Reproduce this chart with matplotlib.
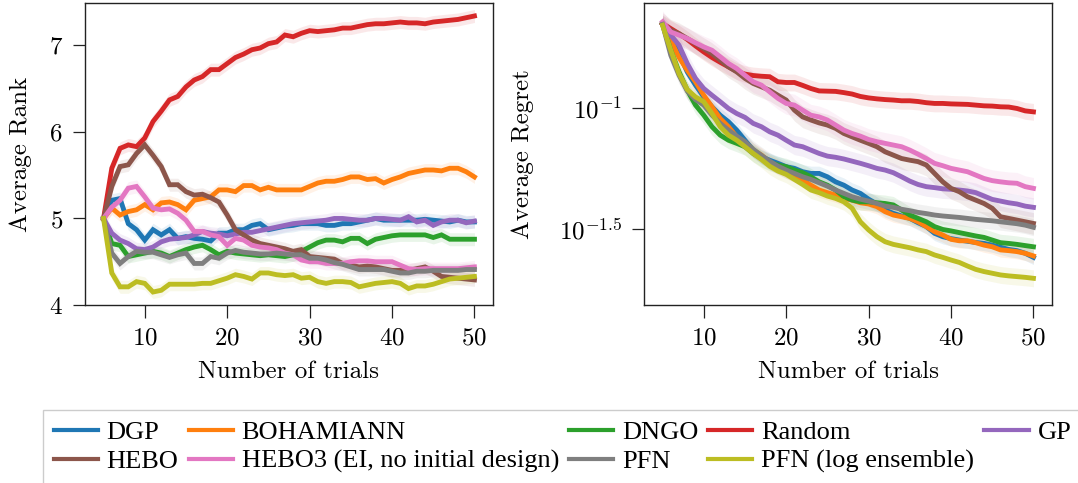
import numpy as np
import matplotlib
matplotlib.use("Agg")
import matplotlib.pyplot as plt
from matplotlib.lines import Line2D

plt.rcParams['font.family'] = ['cmr10', 'DejaVu Serif']
plt.rcParams['mathtext.fontset'] = 'cm'
plt.rcParams['axes.formatter.use_mathtext'] = True

trials = list(range(5, 51))

methods = ["DGP", "BOHAMIANN", "DNGO", "Random", "GP", "HEBO",
           "HEBO3 (EI, no initial design)", "PFN", "PFN (log ensemble)"]
colors = ["#1f77b4", "#ff7f0e", "#2ca02c", "#d62728", "#9467bd", "#8c564b",
          "#e377c2", "#7f7f7f", "#bcbd22"]

# Average rank per trial (5..50)
rank_dgp = [5.00, 5.21, 5.23, 4.94, 4.87, 4.75, 4.87, 4.81, 4.87, 4.77,
            4.79, 4.77, 4.76, 4.74, 4.83, 4.83, 4.87, 4.87, 4.92, 4.94,
            4.87, 4.89, 4.91, 4.92, 4.94, 4.94, 4.94, 4.92, 4.92, 4.94,
            4.94, 4.96, 4.98, 5.00, 4.98, 4.98, 4.98, 4.98, 4.98, 4.99,
            4.98, 4.97, 4.96, 4.98, 4.96, 4.96]
rank_bohamiann = [5.00, 5.12, 5.04, 5.08, 5.10, 5.16, 5.10, 5.18, 5.19, 5.16,
                  5.10, 5.21, 5.23, 5.25, 5.33, 5.33, 5.31, 5.38, 5.38, 5.33,
                  5.36, 5.33, 5.33, 5.33, 5.33, 5.37, 5.41, 5.43, 5.43, 5.45,
                  5.48, 5.48, 5.45, 5.46, 5.41, 5.45, 5.48, 5.52, 5.54, 5.56,
                  5.56, 5.55, 5.58, 5.58, 5.54, 5.48]
rank_dngo = [5.00, 4.71, 4.69, 4.56, 4.58, 4.60, 4.62, 4.60, 4.56, 4.60,
             4.64, 4.67, 4.69, 4.64, 4.58, 4.62, 4.60, 4.59, 4.58, 4.57,
             4.58, 4.57, 4.56, 4.58, 4.62, 4.67, 4.72, 4.75, 4.75, 4.73,
             4.77, 4.77, 4.71, 4.76, 4.78, 4.80, 4.81, 4.81, 4.81, 4.81,
             4.78, 4.81, 4.76, 4.76, 4.76, 4.76]
rank_random = [5.00, 5.58, 5.81, 5.85, 5.83, 5.93, 6.12, 6.24, 6.37, 6.41,
               6.52, 6.60, 6.64, 6.72, 6.72, 6.79, 6.86, 6.90, 6.95, 6.97,
               7.02, 7.04, 7.12, 7.10, 7.14, 7.17, 7.16, 7.17, 7.18, 7.20,
               7.20, 7.22, 7.24, 7.25, 7.25, 7.26, 7.27, 7.26, 7.26, 7.25,
               7.27, 7.28, 7.29, 7.30, 7.32, 7.34]
rank_gp = [5.00, 4.83, 4.75, 4.71, 4.65, 4.64, 4.67, 4.73, 4.76, 4.77,
           4.78, 4.81, 4.85, 4.83, 4.82, 4.80, 4.82, 4.84, 4.84, 4.86,
           4.88, 4.90, 4.92, 4.94, 4.95, 4.96, 4.97, 4.98, 5.00, 5.00,
           4.99, 4.98, 4.98, 5.00, 5.00, 4.99, 4.98, 5.02, 4.96, 4.98,
           4.92, 4.96, 4.98, 4.98, 4.95, 4.97]
rank_hebo = [5.00, 5.37, 5.60, 5.62, 5.75, 5.85, 5.73, 5.60, 5.39, 5.39,
             5.31, 5.27, 5.28, 5.24, 5.19, 5.04, 4.87, 4.81, 4.75, 4.71,
             4.69, 4.67, 4.65, 4.62, 4.64, 4.56, 4.55, 4.54, 4.53, 4.48,
             4.46, 4.44, 4.45, 4.44, 4.42, 4.40, 4.40, 4.40, 4.42, 4.44,
             4.39, 4.33, 4.32, 4.31, 4.30, 4.29]
rank_hebo3 = [5.00, 5.13, 5.21, 5.35, 5.37, 5.25, 5.12, 5.10, 5.11, 5.06,
              4.98, 4.85, 4.85, 4.81, 4.79, 4.69, 4.77, 4.75, 4.69, 4.67,
              4.66, 4.64, 4.60, 4.58, 4.52, 4.50, 4.50, 4.48, 4.48, 4.48,
              4.50, 4.51, 4.51, 4.50, 4.50, 4.50, 4.46, 4.42, 4.41, 4.42,
              4.42, 4.42, 4.42, 4.42, 4.43, 4.44]
rank_pfn = [5.00, 4.60, 4.48, 4.56, 4.62, 4.61, 4.61, 4.58, 4.55, 4.58,
            4.60, 4.48, 4.48, 4.56, 4.54, 4.60, 4.63, 4.61, 4.60, 4.59,
            4.59, 4.60, 4.59, 4.58, 4.58, 4.54, 4.54, 4.52, 4.49, 4.47,
            4.44, 4.41, 4.41, 4.41, 4.41, 4.39, 4.37, 4.37, 4.39, 4.39,
            4.40, 4.40, 4.40, 4.40, 4.41, 4.41]
rank_pfn_log = [5.00, 4.37, 4.21, 4.21, 4.27, 4.25, 4.15, 4.17, 4.24, 4.24,
                4.24, 4.24, 4.25, 4.25, 4.28, 4.31, 4.35, 4.33, 4.30, 4.37,
                4.37, 4.35, 4.34, 4.35, 4.31, 4.32, 4.27, 4.25, 4.27, 4.27,
                4.26, 4.21, 4.23, 4.25, 4.26, 4.27, 4.25, 4.19, 4.22, 4.22,
                4.24, 4.27, 4.30, 4.31, 4.32, 4.33]

# log10 of average regret per trial (5..50)
logreg_dgp = [-0.650, -0.702, -0.772, -0.848, -0.903, -0.952, -0.993, -1.028, -1.055, -1.090,
              -1.132, -1.173, -1.201, -1.215, -1.228, -1.242, -1.249, -1.263, -1.270, -1.270,
              -1.284, -1.305, -1.319, -1.339, -1.353, -1.377, -1.397, -1.422, -1.436, -1.447,
              -1.457, -1.475, -1.491, -1.519, -1.533, -1.541, -1.547, -1.552, -1.557, -1.561,
              -1.568, -1.577, -1.586, -1.591, -1.602, -1.619]
logreg_bohamiann = [-0.650, -0.716, -0.788, -0.841, -0.889, -0.945, -0.993, -1.042, -1.076, -1.118,
                    -1.145, -1.173, -1.194, -1.224, -1.242, -1.260, -1.277, -1.298, -1.319, -1.339,
                    -1.350, -1.360, -1.374, -1.381, -1.392, -1.397, -1.408, -1.429, -1.443, -1.450,
                    -1.457, -1.471, -1.491, -1.512, -1.526, -1.544, -1.550, -1.550, -1.558, -1.568,
                    -1.575, -1.588, -1.591, -1.595, -1.602, -1.613]
logreg_dngo = [-0.650, -0.758, -0.848, -0.924, -0.986, -1.028, -1.076, -1.111, -1.132, -1.145,
               -1.159, -1.187, -1.208, -1.224, -1.235, -1.242, -1.256, -1.267, -1.284, -1.305,
               -1.319, -1.339, -1.367, -1.381, -1.388, -1.388, -1.392, -1.395, -1.401, -1.422,
               -1.443, -1.457, -1.471, -1.491, -1.503, -1.509, -1.516, -1.523, -1.530, -1.536,
               -1.547, -1.558, -1.561, -1.565, -1.570, -1.575]
logreg_random = [-0.647, -0.668, -0.689, -0.713, -0.740, -0.765, -0.788, -0.808, -0.827, -0.845,
                 -0.857, -0.863, -0.866, -0.868, -0.889, -0.892, -0.892, -0.904, -0.917, -0.927,
                 -0.928, -0.929, -0.934, -0.940, -0.950, -0.956, -0.960, -0.963, -0.965, -0.968,
                 -0.968, -0.971, -0.976, -0.979, -0.979, -0.981, -0.982, -0.983, -0.986, -0.989,
                 -0.990, -0.993, -0.994, -1.000, -1.010, -1.014]
logreg_gp = [-0.650, -0.695, -0.737, -0.813, -0.875, -0.917, -0.945, -0.972, -1.000, -1.021,
             -1.037, -1.062, -1.076, -1.097, -1.111, -1.132, -1.152, -1.159, -1.173, -1.187,
             -1.198, -1.203, -1.210, -1.219, -1.228, -1.238, -1.249, -1.256, -1.267, -1.284,
             -1.302, -1.316, -1.325, -1.329, -1.334, -1.336, -1.339, -1.343, -1.350, -1.364,
             -1.378, -1.385, -1.392, -1.397, -1.406, -1.411]
logreg_hebo = [-0.647, -0.675, -0.689, -0.709, -0.730, -0.751, -0.772, -0.799, -0.827, -0.848,
               -0.875, -0.896, -0.910, -0.924, -0.945, -0.965, -1.007, -1.035, -1.048, -1.060,
               -1.069, -1.083, -1.104, -1.118, -1.132, -1.145, -1.159, -1.180, -1.194, -1.208,
               -1.215, -1.221, -1.235, -1.270, -1.305, -1.332, -1.346, -1.367, -1.381, -1.395,
               -1.415, -1.450, -1.457, -1.464, -1.471, -1.478]
logreg_hebo3 = [-0.640, -0.682, -0.695, -0.709, -0.727, -0.744, -0.758, -0.785, -0.813, -0.834,
                -0.862, -0.889, -0.903, -0.931, -0.958, -0.979, -0.986, -1.007, -1.028, -1.035,
                -1.048, -1.069, -1.090, -1.104, -1.115, -1.129, -1.138, -1.145, -1.152, -1.159,
                -1.173, -1.190, -1.208, -1.228, -1.238, -1.249, -1.256, -1.263, -1.277, -1.291,
                -1.300, -1.305, -1.309, -1.311, -1.325, -1.332]
logreg_pfn = [-0.650, -0.779, -0.862, -0.927, -0.963, -0.986, -1.028, -1.062, -1.090, -1.115,
              -1.138, -1.170, -1.195, -1.219, -1.240, -1.256, -1.270, -1.284, -1.295, -1.309,
              -1.323, -1.339, -1.353, -1.367, -1.377, -1.385, -1.395, -1.406, -1.411, -1.419,
              -1.425, -1.432, -1.437, -1.443, -1.447, -1.450, -1.453, -1.457, -1.461, -1.464,
              -1.467, -1.471, -1.475, -1.479, -1.485, -1.494]
logreg_pfn_log = [-0.654, -0.758, -0.855, -0.921, -0.952, -0.972, -1.021, -1.076, -1.111, -1.132,
                  -1.159, -1.187, -1.212, -1.240, -1.260, -1.274, -1.295, -1.316, -1.339, -1.350,
                  -1.364, -1.374, -1.388, -1.415, -1.471, -1.505, -1.533, -1.554, -1.565, -1.572,
                  -1.579, -1.588, -1.595, -1.609, -1.619, -1.630, -1.640, -1.655, -1.669, -1.678,
                  -1.685, -1.692, -1.696, -1.699, -1.702, -1.706]

# half-width of shaded bands (rank units / decades of regret)
rank_band = [0.075, 0.075, 0.075, 0.075, 0.075, 0.075, 0.075, 0.075, 0.075]
regret_band = [0.03, 0.03, 0.035, 0.035, 0.04, 0.045, 0.045, 0.035, 0.035]

ranks = [rank_dgp, rank_bohamiann, rank_dngo, rank_random, rank_gp, rank_hebo,
         rank_hebo3, rank_pfn, rank_pfn_log]
logregs = [logreg_dgp, logreg_bohamiann, logreg_dngo, logreg_random, logreg_gp,
           logreg_hebo, logreg_hebo3, logreg_pfn, logreg_pfn_log]

W, H = 1078, 483
fig = plt.figure(figsize=(W / 100, H / 100), dpi=100)
ax1 = fig.add_axes([85 / W, 1 - 305 / H, 408 / W, 302 / H])
ax2 = fig.add_axes([644 / W, 1 - 305 / H, 408 / W, 302 / H])

x = np.array(trials)
lw = 3.5
for i in range(len(methods)):
    r = np.array(ranks[i])
    ax1.fill_between(x, r - rank_band[i], r + rank_band[i], color=colors[i],
                     alpha=0.1, linewidth=0)
    ax1.plot(x, r, color=colors[i], lw=lw, label=methods[i],
             solid_joinstyle='miter')
    lg = np.array(logregs[i])
    ax2.fill_between(x, 10 ** (lg - regret_band[i]), 10 ** (lg + regret_band[i]),
                     color=colors[i], alpha=0.1, linewidth=0)
    ax2.plot(x, 10 ** lg, color=colors[i], lw=lw, solid_joinstyle='miter')

fs = 18
for ax in (ax1, ax2):
    ax.set_xticks([10, 20, 30, 40, 50])
    ax.tick_params(axis='both', which='major', labelsize=fs, length=9, width=0.9,
                   pad=7, direction='out', color='#222222')
    ax.set_xlabel("Number of trials", fontsize=fs, labelpad=8)
    for sp in ax.spines.values():
        sp.set_linewidth(1.0)
        sp.set_color('#222222')
    ax.set_xlim(2.75, 52.25)

ax1.set_ylim(4, 7.49)
ax1.set_yticks([4, 5, 6, 7])
ax1.set_ylabel("Average Rank", fontsize=fs, labelpad=12)

ax2.set_yscale('log')
ax2.set_ylim(10 ** -1.817, 10 ** -0.5615)
ax2.set_yticks([10 ** -1, 10 ** -1.5])
ax2.set_yticklabels([r'$10^{-1}$', r'$10^{-1.5}$'])
ax2.yaxis.set_minor_locator(matplotlib.ticker.NullLocator())
ax2.set_ylabel("Average Regret", fontsize=fs, labelpad=18)

order = [0, 5, 1, 6, 2, 7, 3, 8, 4]
leg_handles = [Line2D([0], [0], color=colors[k], lw=3) for k in order]
leg_labels = [methods[k] for k in order]
leg = fig.legend(leg_handles, leg_labels, loc='upper left',
                 bbox_to_anchor=(43 / W, 1 - 410 / H), borderaxespad=0,
                 ncol=5, prop={'family': ['Liberation Serif', 'DejaVu Serif'], 'size': 19},
                 frameon=True, fancybox=False, edgecolor='#cccccc',
                 framealpha=1, handlelength=1.67, handletextpad=0.34,
                 columnspacing=0.38, labelspacing=0.2, borderpad=0.4)
leg.get_frame().set_linewidth(1.0)

fig.savefig("out.png", dpi=100)
